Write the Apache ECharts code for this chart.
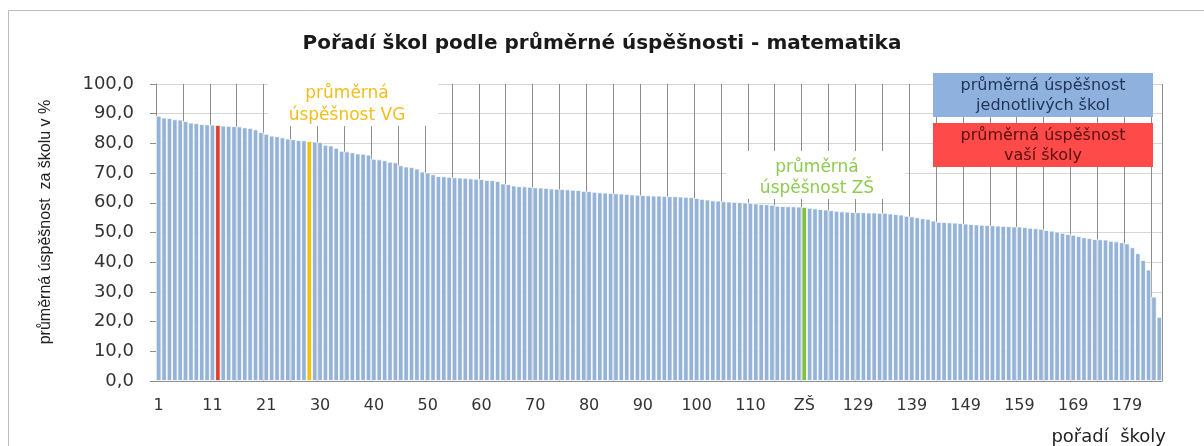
<!DOCTYPE html>
<html>
<head>
<meta charset="utf-8">
<script src="https://cdn.jsdelivr.net/npm/echarts@6/dist/echarts.min.js"></script>
<style>
html,body{margin:0;padding:0;background:#fff;}
#chart{width:1204px;height:446px;}
</style>
</head>
<body>
<div id="chart"></div>
<script>
// ---- data ----
const titleText = 'Pořadí škol podle průměrné úspěšnosti - matematika';
const yAxisName = 'průměrná úspěšnost  za školu v %';
const xAxisName = 'pořadí  školy';

const categories = [
"1","2","3","4","5","6","7","8","9","10","11","12","13","14","15","16","17","18","19","20",
"21","22","23","24","25","26","27","28","VG","29","30","31","32","33","34","35","36","37","38","39",
"40","41","42","43","44","45","46","47","48","49","50","51","52","53","54","55","56","57","58","59",
"60","61","62","63","64","65","66","67","68","69","70","71","72","73","74","75","76","77","78","79",
"80","81","82","83","84","85","86","87","88","89","90","91","92","93","94","95","96","97","98","99",
"100","101","102","103","104","105","106","107","108","109","110","111","112","113","114","115","116","117","118","119",
"ZŠ","120","121","122","123","124","125","126","127","128","129","130","131","132","133","134","135","136","137","138",
"139","140","141","142","143","144","145","146","147","148","149","150","151","152","153","154","155","156","157","158",
"159","160","161","162","163","164","165","166","167","168","169","170","171","172","173","174","175","176","177","178",
"179","180","181","182","183","184","185"
];

const values = [
89.3, 88.7, 88.5, 88.1, 88.0, 87.5, 87.0, 86.8, 86.5, 86.4,
86.3, 86.2, 86.0, 85.9, 85.8, 85.7, 85.4, 85.2, 84.7, 83.8,
83.2, 82.6, 82.4, 82.0, 81.6, 81.4, 81.1, 81.0, 80.8, 80.6,
80.5, 79.5, 79.3, 78.5, 77.5, 77.3, 77.0, 76.6, 76.5, 76.2,
74.8, 74.6, 74.3, 73.8, 73.6, 72.6, 72.2, 72.0, 71.5, 70.5,
70.2, 69.6, 69.0, 68.9, 68.7, 68.6, 68.5, 68.4, 68.2, 68.1,
68.0, 67.7, 67.6, 67.3, 66.5, 66.3, 65.8, 65.6, 65.5, 65.4,
65.2, 65.1, 65.0, 64.8, 64.7, 64.6, 64.5, 64.4, 64.3, 64.0,
63.9, 63.7, 63.5, 63.4, 63.3, 63.2, 63.1, 63.0, 62.8, 62.7,
62.6, 62.5, 62.4, 62.4, 62.3, 62.2, 62.2, 62.1, 62.0, 61.9,
61.6, 61.3, 61.1, 60.8, 60.7, 60.5, 60.4, 60.3, 60.2, 60.1,
60.0, 59.8, 59.6, 59.5, 59.3, 59.0, 58.9, 58.8, 58.8, 58.7,
58.6, 58.3, 58.1, 57.9, 57.7, 57.5, 57.3, 57.1, 57.0, 56.9,
56.8, 56.8, 56.7, 56.7, 56.6, 56.6, 56.4, 56.2, 56.0, 55.6,
55.4, 55.1, 54.8, 54.6, 54.0, 53.6, 53.5, 53.4, 53.3, 53.2,
53.0, 52.8, 52.7, 52.6, 52.5, 52.4, 52.3, 52.2, 52.1, 52.0,
52.0, 51.8, 51.6, 51.4, 51.2, 50.8, 50.6, 50.3, 49.9, 49.5,
49.2, 48.8, 48.4, 48.1, 47.8, 47.7, 47.6, 47.2, 47.0, 46.7,
46.3, 45.0, 43.0, 40.7, 37.5, 28.4, 21.6
];

const ownSchoolCategory = '12';
const vgCategory = 'VG';
const zsCategory = 'ZŠ';
const yTicks = [0,10,20,30,40,50,60,70,80,90,100];

// ---- styles ----
const C_BAR = '#95B3D7';
const C_OWN = '#E0402E';
const C_VG = '#F5C000';
const C_ZS = '#7CC142';

const specialColor = {};
specialColor[ownSchoolCategory] = C_OWN;
specialColor[vgCategory] = C_VG;
specialColor[zsCategory] = C_ZS;

const seriesData = values.map((v, i) => {
  const c = specialColor[categories[i]];
  return c ? { value: v, itemStyle: { color: c } } : v;
});

const chart = echarts.init(document.getElementById('chart'), null, { renderer: 'canvas' });

const font = 'DejaVu Sans, Verdana, sans-serif';

chart.setOption({
  animation: false,
  backgroundColor: '#ffffff',
  title: {
    text: titleText,
    left: 'center',
    top: 29,
    textStyle: { fontFamily: font, fontWeight: 'bold', fontSize: 20, color: '#1a1a1a' }
  },
  grid: { left: 156, right: 42, top: 84, bottom: 65, containLabel: false },
  xAxis: {
    type: 'category',
    data: categories,
    boundaryGap: true,
    axisLine: { show: true, lineStyle: { color: '#8a8a8a', width: 1 } },
    axisTick: { show: false },
    axisLabel: { interval: 9, margin: 17, fontFamily: font, fontSize: 16, color: '#333' },
    splitLine: { show: true, interval: 4, lineStyle: { color: '#8c8c8c', width: 1 } }
  },
  yAxis: {
    type: 'value',
    min: yTicks[0],
    max: yTicks[yTicks.length - 1],
    interval: 10,
    axisLine: { show: true, lineStyle: { color: '#8a8a8a', width: 1 } },
    axisTick: { show: true, length: 6, lineStyle: { color: '#8a8a8a' } },
    axisLabel: {
      margin: 22,
      fontFamily: font,
      fontSize: 18,
      color: '#333',
      formatter: v => v.toFixed(1).replace('.', ',')
    },
    splitLine: { show: true, lineStyle: { color: '#d6d6d6', width: 1 } }
  },
  series: [{
    type: 'bar',
    data: seriesData,
    barCategoryGap: '0%',
    itemStyle: { color: C_BAR, borderColor: '#ffffff', borderWidth: 0.8 },
    z: 3
  }],
  graphic: [
    // outer chart frame (left and top edges visible)
    { type: 'rect', shape: { x: 8.5, y: 10.5, width: 1400, height: 600 },
      style: { fill: 'none', stroke: '#bdbdbd', lineWidth: 1 }, silent: true, z: 0 },
    // y axis name
    { type: 'text', x: 46, y: 222, rotation: Math.PI / 2,
      style: { text: yAxisName, font: '16px "Liberation Sans Narrow", "Liberation Sans", sans-serif',
               fill: '#222', textAlign: 'center', textVerticalAlign: 'middle' }, z: 10 },
    // x axis name
    { type: 'text', x: 1166, y: 437,
      style: { text: xAxisName, font: '18px ' + font, fill: '#222',
               textAlign: 'right', textVerticalAlign: 'middle' }, z: 10 },
    // VG annotation
    { type: 'rect', shape: { x: 268, y: 80, width: 170, height: 46 },
      style: { fill: '#fff' }, z: 5 },
    { type: 'text', x: 347, y: 105,
      style: { text: 'průměrná\núspěšnost VG', font: '17px ' + font, fill: '#F2BE1A',
               textAlign: 'center', textVerticalAlign: 'middle', lineHeight: 22 }, z: 6 },
    // ZŠ annotation
    { type: 'rect', shape: { x: 726, y: 151, width: 180, height: 48 },
      style: { fill: '#fff' }, z: 5 },
    { type: 'text', x: 817, y: 178,
      style: { text: 'průměrná\núspěšnost ZŠ', font: '17px ' + font, fill: '#8FCB4F',
               textAlign: 'center', textVerticalAlign: 'middle', lineHeight: 21 }, z: 6 },
    // legend boxes
    { type: 'rect', shape: { x: 933, y: 73, width: 220, height: 44 },
      style: { fill: '#8EB1DE' }, z: 7 },
    { type: 'text', x: 1043, y: 96,
      style: { text: 'průměrná úspěšnost\njednotlivých škol', font: '16px ' + font, fill: '#1F3458',
               textAlign: 'center', textVerticalAlign: 'middle', lineHeight: 20 }, z: 8 },
    { type: 'rect', shape: { x: 933, y: 123, width: 220, height: 44 },
      style: { fill: '#FF4A4A' }, z: 7 },
    { type: 'text', x: 1043, y: 146,
      style: { text: 'průměrná úspěšnost\nvaší školy', font: '16px ' + font, fill: '#5A0E0E',
               textAlign: 'center', textVerticalAlign: 'middle', lineHeight: 20 }, z: 8 }
  ]
});
</script>
</body>
</html>
